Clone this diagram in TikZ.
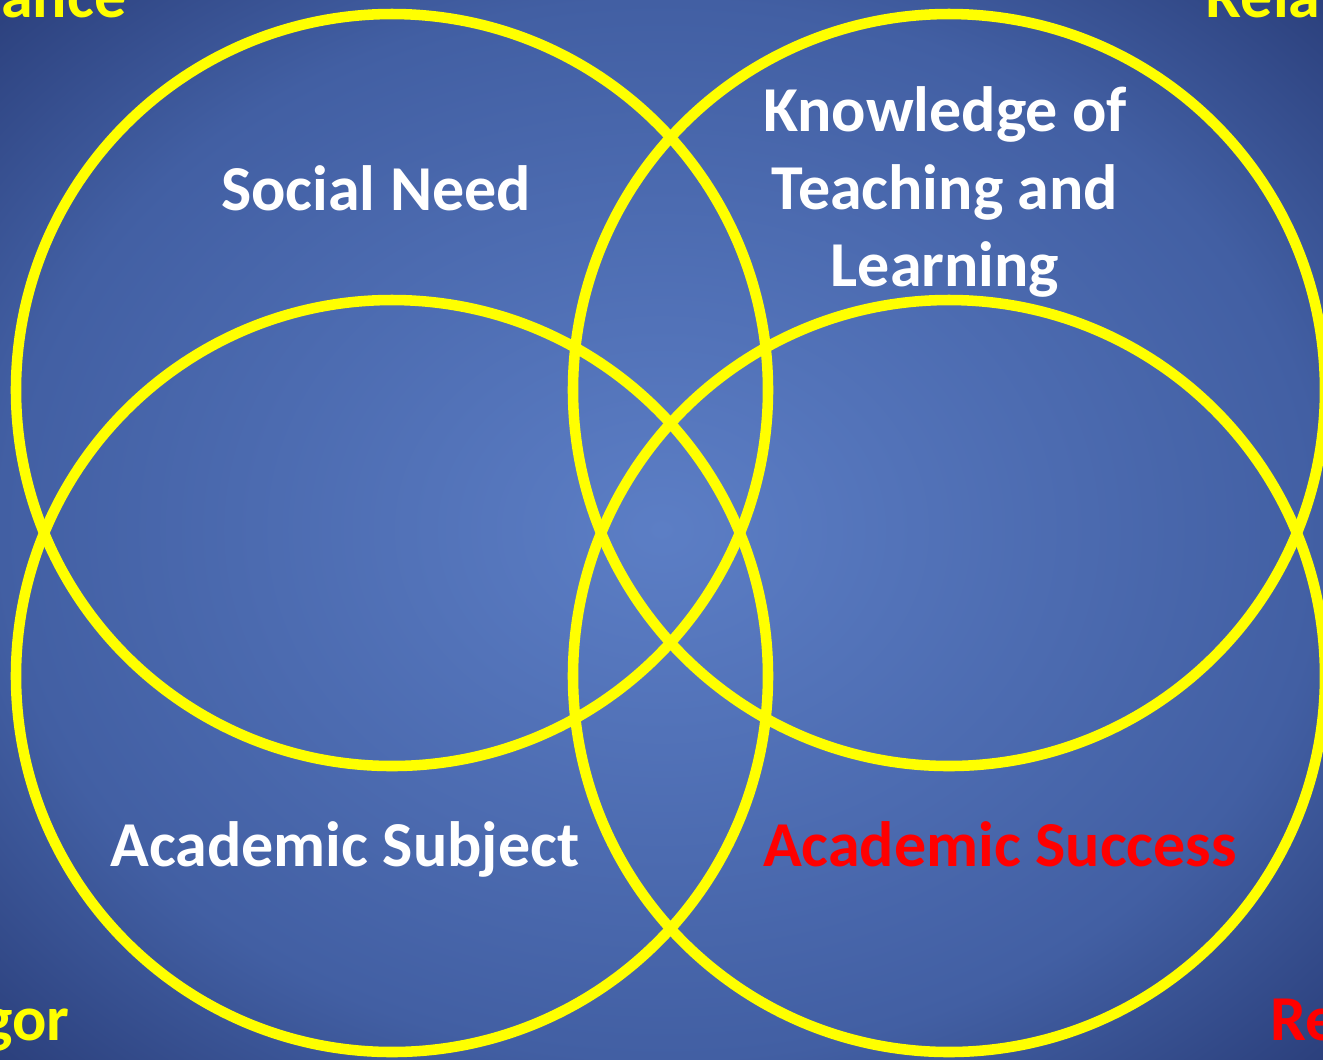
\documentclass[tikz,border=0pt]{standalone}
\usepackage{fontspec}
\setmainfont{Carlito}
\definecolor{slidein}{RGB}{92,126,197}
\definecolor{slidemid}{RGB}{66,95,163}
\definecolor{slideout}{RGB}{42,62,122}
\definecolor{ringyellow}{RGB}{255,255,0}
\pgfdeclareradialshading{slide}{\pgfpoint{0bp}{0bp}}{color(0bp)=(slidein); color(25bp)=(slidemid); color(36bp)=(slideout); color(50bp)=(slideout)}

\begin{document}
\begin{tikzpicture}[x=0.01cm, y=-0.01cm, font=\bfseries\fontsize{18.2}{21.9}\selectfont,
      ring/.style={draw=ringyellow, line width=3pt},
      label/.style={text=white, align=center},
      corner/.style={text=ringyellow}]
    \useasboundingbox (0,0) rectangle (1323,1059);
    \clip (0,0) rectangle (1323,1059);
    \shade[shading=slide] (0,0) rectangle (1323,1059);
    % circle centres
    \coordinate (need) at (392,390);
    \coordinate (know) at (949,390);
    \coordinate (subj) at (392,676);
    \coordinate (succ) at (949,676);
    \foreach \c in {need,know,subj,succ}
      \draw[ring] (\c) circle[radius=376];
    % texts
    \node[label, anchor=base] (needtxt) at (376,210) {Social Need};
    \node[label, anchor=base] (knowtxt) at (945,286) {Knowledge of\\Teaching and\\Learning};
    \node[label, anchor=base] (subjtxt) at (345,866) {Academic Subject};
    \node[label, anchor=base, text=red] (succtxt) at (1000,866) {Academic Success};
    % cut-off corner words
    \node[corner, anchor=base east, inner sep=0pt] (relev) at (127,17) {Relevance};
    \node[corner, anchor=base west, inner sep=0pt] (relat) at (1205,17) {Relationships};
    \node[corner, anchor=base east, inner sep=0pt] (rigor) at (70,1040) {Rigor};
    \node[corner, anchor=base west, inner sep=0pt, text=red] (resul) at (1270,1040) {Results};
  \end{tikzpicture}
\end{document}
